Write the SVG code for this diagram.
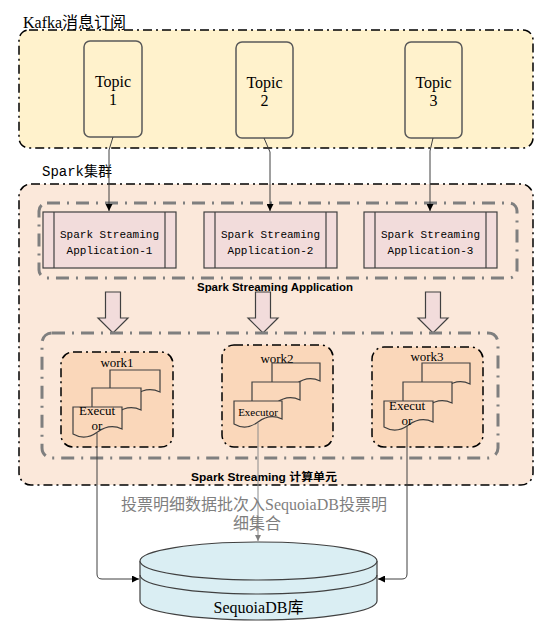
<svg xmlns="http://www.w3.org/2000/svg" width="550" height="626" viewBox="0 0 550 626">
<defs>
<style>
.grp{stroke:#000;stroke-width:1.5;stroke-dasharray:9 4 2 4;}
.gray{fill:none;stroke:#7f7f7f;stroke-width:3;stroke-dasharray:13 7 2 7;}
.topic{fill:#fff2cc;stroke:#595959;stroke-width:1.5;}
.ttxt{font-family:"Liberation Serif",serif;font-size:16px;fill:#000;text-anchor:middle;}
.app{fill:#f2dcdb;stroke:#404040;stroke-width:1.2;}
.atxt{font-family:"Liberation Mono",monospace;font-size:11px;fill:#000;text-anchor:middle;}
.work{fill:#fad7ba;stroke:#000;stroke-width:1.5;stroke-dasharray:9 4 2 4;}
.doc{fill:#fad7ba;stroke:#404040;stroke-width:1.2;}
.wtxt{font-family:"Liberation Serif",serif;font-size:13px;fill:#000;text-anchor:middle;}
.wsm{font-family:"Liberation Serif",serif;font-size:11px;fill:#000;text-anchor:middle;}
.blk{fill:#f2dcdb;stroke:#404040;stroke-width:1.2;}
.bold{font-family:"Liberation Sans","Noto Sans CJK SC",sans-serif;font-size:11px;font-weight:bold;fill:#000;}
.conn{fill:none;stroke:#404040;stroke-width:1;}
</style>
<marker id="ah" viewBox="0 0 10 10" refX="10" refY="5" markerWidth="7" markerHeight="7" orient="auto" markerUnits="userSpaceOnUse">
<path d="M0,0 L10,5 L0,10 Z" fill="#000"/>
</marker>
<marker id="ahg" viewBox="0 0 10 10" refX="10" refY="5" markerWidth="6" markerHeight="6" orient="auto" markerUnits="userSpaceOnUse">
<path d="M0,0 L10,5 L0,10 Z" fill="#7f7f7f"/>
</marker>
</defs>

<g id="kafka-group">
<rect x="19" y="30" width="514" height="118" rx="10" fill="#fff2cc" class="grp"/>
<text x="23" y="28" font-family="Liberation Serif, Noto Sans CJK SC, serif" font-size="16" fill="#000">Kafka消息订阅</text>
</g>

<g id="spark-cluster">
<rect x="19" y="184" width="514" height="301" rx="12" fill="#fbe8da" class="grp"/>
<text x="42" y="176" font-family="Liberation Mono, Noto Sans CJK SC, monospace" font-size="14" fill="#000">Spark集群</text>
</g>

<g id="topic1">
<rect x="84" y="41" width="58" height="96" rx="6" class="topic"/>
<text x="113" y="87" class="ttxt">Topic</text>
<text x="113" y="105" class="ttxt">1</text>
</g>
<g id="topic2">
<rect x="236" y="42" width="57" height="96" rx="6" class="topic"/>
<text x="264.5" y="88" class="ttxt">Topic</text>
<text x="264.5" y="106" class="ttxt">2</text>
</g>
<g id="topic3">
<rect x="405" y="42" width="57" height="96" rx="6" class="topic"/>
<text x="433.5" y="88" class="ttxt">Topic</text>
<text x="433.5" y="106" class="ttxt">3</text>
</g>

<g id="app-group">
<rect x="39" y="203" width="478" height="75" rx="8" class="gray"/>
<text x="197" y="291" class="bold" textLength="156" lengthAdjust="spacingAndGlyphs">Spark Streaming Application</text>
</g>

<g id="app1">
<rect x="43" y="212" width="133" height="56" class="app"/>
<line x1="54" y1="212" x2="54" y2="268" stroke="#404040" stroke-width="1.2"/>
<line x1="165" y1="212" x2="165" y2="268" stroke="#404040" stroke-width="1.2"/>
<text x="109.5" y="238" class="atxt">Spark Streaming</text>
<text x="109.5" y="254" class="atxt">Application-1</text>
</g>
<g id="app2">
<rect x="204" y="212" width="133" height="56" class="app"/>
<line x1="215" y1="212" x2="215" y2="268" stroke="#404040" stroke-width="1.2"/>
<line x1="326" y1="212" x2="326" y2="268" stroke="#404040" stroke-width="1.2"/>
<text x="270.5" y="238" class="atxt">Spark Streaming</text>
<text x="270.5" y="254" class="atxt">Application-2</text>
</g>
<g id="app3">
<rect x="364" y="212" width="133" height="56" class="app"/>
<line x1="375" y1="212" x2="375" y2="268" stroke="#404040" stroke-width="1.2"/>
<line x1="486" y1="212" x2="486" y2="268" stroke="#404040" stroke-width="1.2"/>
<text x="430.5" y="238" class="atxt">Spark Streaming</text>
<text x="430.5" y="254" class="atxt">Application-3</text>
</g>

<g id="block-arrows">
<path d="M105.5,292 H120.5 V318 H128 L113,333 L98,318 H105.5 Z" class="blk"/>
<path d="M255.5,292 H270.5 V318 H278 L263,333 L248,318 H255.5 Z" class="blk"/>
<path d="M425.5,292 H440.5 V318 H448 L433,333 L418,318 H425.5 Z" class="blk"/>
</g>

<g id="work-group">
<rect x="42" y="333" width="456" height="125" rx="10" class="gray"/>
<text x="191" y="481" class="bold" textLength="146" lengthAdjust="spacingAndGlyphs">Spark Streaming 计算单元</text>
</g>

<g id="work1">
<rect x="61" y="352" width="112" height="95" rx="12" class="work"/>
<text x="117" y="367" class="wtxt">work1</text>
<path d="M110,370 H160 V392 Q147.5,386 135,395 T110,397 Z" class="doc"/>
<path d="M92,388 H141 V410 Q128.75,404 116.5,413 T92,415 Z" class="doc"/>
<path d="M73,407 H122 V429 Q109.75,423 97.5,432 T73,434 Z" class="doc"/>
<text x="97" y="415" class="wtxt">Execut</text>
<text x="97" y="430" class="wtxt">or</text>
</g>

<g id="work2">
<rect x="222" y="345" width="111" height="102" rx="12" class="work"/>
<text x="277" y="363" class="wtxt">work2</text>
<path d="M272,363 H320 V381 Q308,375 296,384 T272,386 Z" class="doc"/>
<path d="M252,382 H300 V400 Q288,394 276,403 T252,405 Z" class="doc"/>
<path d="M234,401 H282 V419 Q270,413 258,422 T234,424 Z" class="doc"/>
<text x="258" y="416" class="wsm">Executor</text>
</g>

<g id="work3">
<rect x="372" y="347" width="111" height="100" rx="12" class="work"/>
<text x="427" y="361" class="wtxt">work3</text>
<path d="M422,363 H470 V384 Q458,378 446,387 T422,389 Z" class="doc"/>
<path d="M403,382 H452 V403 Q439.75,397 427.5,406 T403,408 Z" class="doc"/>
<path d="M384,401 H433 V422 Q420.75,416 408.5,425 T384,427 Z" class="doc"/>
<text x="407" y="410" class="wtxt">Execut</text>
<text x="407" y="425" class="wtxt">or</text>
</g>

<g id="sequoiadb">
<path d="M140,561 V601 A118.5,19 0 0 0 377,601 V561" fill="#daeef3" stroke="#404040" stroke-width="1.2"/>
<path d="M140,575 A118.5,19 0 0 0 377,575" fill="none" stroke="#404040" stroke-width="1.2"/>
<ellipse cx="258.5" cy="561" rx="118.5" ry="19" fill="#daeef3" stroke="#404040" stroke-width="1.2"/>
<text x="258.5" y="613" font-family="Liberation Serif, Noto Sans CJK SC, serif" font-size="16" fill="#000" text-anchor="middle">SequoiaDB库</text>
</g>

<g id="connectors">
<path d="M113,137 L109,150 V211" class="conn" marker-end="url(#ah)"/>
<path d="M264,138 L270,152 V211" class="conn" marker-end="url(#ah)"/>
<path d="M433,138 L430,151 V211" class="conn" marker-end="url(#ah)"/>
<path d="M97,433 V574 Q97,579 102,579 H139" class="conn" marker-end="url(#ah)"/>
<path d="M407,426 V574 Q407,579 402,579 H378" class="conn" marker-end="url(#ah)"/>
<path d="M258,423 V541" fill="none" stroke="#8c8c8c" stroke-width="1" marker-end="url(#ahg)"/>
<text x="254" y="510" font-family="Liberation Serif, Noto Sans CJK SC, serif" font-size="16" fill="#7f7f7f" text-anchor="middle">投票明细数据批次入SequoiaDB投票明</text>
<text x="257" y="529" font-family="Liberation Serif, Noto Sans CJK SC, serif" font-size="16" fill="#7f7f7f" text-anchor="middle">细集合</text>
</g>
</svg>
